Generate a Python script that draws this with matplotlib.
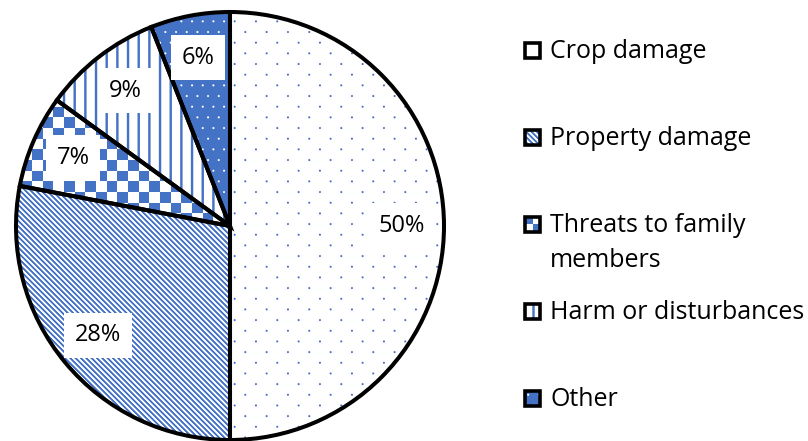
import numpy as np
import matplotlib.pyplot as plt
from matplotlib.patches import Rectangle

# share of respondents reporting each kind of conflict (%)
categories = ['Crop damage', 'Property damage', 'Threats to family members',
              'Harm or disturbances', 'Other']
legend_labels = ['Crop damage', 'Property damage', 'Threats to family\nmembers',
                 'Harm or disturbances', 'Other']
shares = [50, 28, 7, 9, 6]

W, H = 808, 441
BLUE = np.array([0x44, 0x72, 0xC4]) / 255.0

plt.rcParams['font.family'] = ['Open Sans', 'DejaVu Sans']

# pixel grid; Y runs downward from the top edge so patterns read like the page
X, Y = np.meshgrid(np.arange(W) + 0.5, H - (np.arange(H) + 0.5))


def dots(sx, sy, r):
    row = np.round(Y / sy)
    shift = (row % 2) * sx / 2
    dx = (X - shift) - np.round((X - shift) / sx) * sx
    dy = Y - row * sy
    return np.clip(r + 0.5 - np.hypot(dx, dy), 0, 1)


def diagonal(period):
    s = ((X - Y) / period) % 1.0
    return np.clip(0.5 + 0.9 * np.cos(2 * np.pi * s), 0, 1)


def checker(cell):
    return ((np.floor(X / cell) + np.floor(Y / cell)) % 2).astype(float)


def vlines(period, half):
    d = np.abs(X / period - np.round(X / period)) * period
    return np.clip(half + 0.5 - d, 0, 1)


def texture(amount):
    # amount 1 -> blue, 0 -> white
    a = amount[..., None]
    return np.ones((H, W, 3)) * (1 - a) + BLUE * a


patterns = [
    texture(dots(21.33, 10.67, 1.0)),
    texture(diagonal(5.33)),
    texture(checker(10.67)),
    texture(vlines(10.67, 1.2)),
    texture(1 - dots(10.67, 10.67, 1.0)),
]

fig = plt.figure(figsize=(W / 100, H / 100), dpi=100)
ax = fig.add_axes([0, 0, 1, 1])

wedges, _, autotexts = ax.pie(
    shares, center=(230, H - 226), radius=214, startangle=90,
    counterclock=False, autopct=lambda p: f'{p:.0f}%', pctdistance=0.8,
    wedgeprops=dict(facecolor='none', edgecolor='black', linewidth=2.9),
    textprops=dict(fontsize=17, color='black'))

for w, tex in zip(wedges, patterns):
    im = ax.imshow(tex, extent=(0, W, 0, H), origin='lower',
                   interpolation='nearest', zorder=0)
    im.set_clip_path(w)

for t in autotexts:
    t.set_bbox(dict(boxstyle='square,pad=0.45', fc='white', ec='none'))
    t.set_zorder(5)

# legend drawn by hand so the swatches carry the same fill patterns
legend_y = [50, 137, 224, 311, 398]
for label, tex, cy in zip(legend_labels, patterns, legend_y):
    box = Rectangle((532 - 7.5, H - cy - 7.5), 15, 15, fc='none', ec='black',
                    lw=2.6, zorder=4)
    ax.add_patch(box)
    im = ax.imshow(tex, extent=(0, W, 0, H), origin='lower',
                   interpolation='nearest', zorder=3)
    im.set_clip_path(box)
    for k, line in enumerate(label.split('\n')):
        ax.text(550, H - cy - 8 - 35 * k, line, fontsize=18, ha='left',
                va='baseline')

ax.set_xlim(0, W)
ax.set_ylim(0, H)
ax.axis('off')

fig.savefig('out.png', dpi=100)
